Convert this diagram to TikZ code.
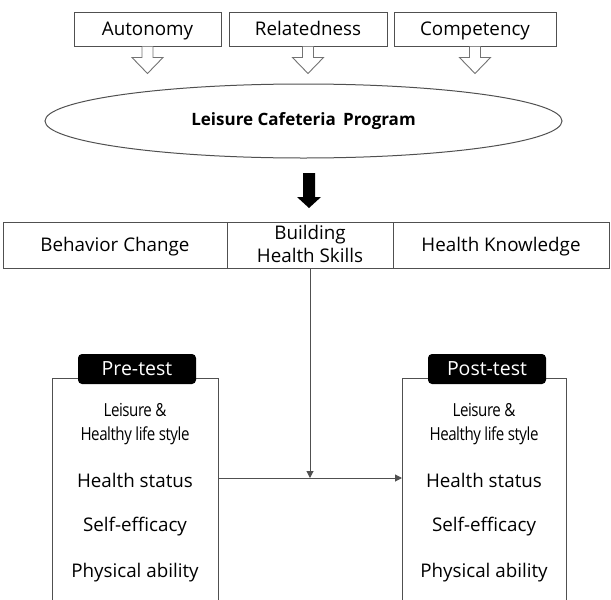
\documentclass[tikz,border=0pt]{standalone}
\usepackage{fontspec}
\setmainfont{Open Sans}
\newfontfamily\narrowfont[FakeStretch=0.84,LetterSpace=-2.5]{Open Sans}
\usetikzlibrary{arrows.meta,calc,shapes.geometric}
\definecolor{edge}{HTML}{505050}
\tikzset{
  box/.style={draw=edge,line width=1pt,rectangle,inner sep=0pt,align=center,text height=13.4pt,text depth=0.8pt,font=\fontsize{18.8}{21}\selectfont},
  hollow/.style={draw=edge!80,line width=0.9pt,fill=white},
  tab/.style={fill=black,rounded corners=4pt,text=white,inner sep=0pt,text height=13.9pt,text depth=0.8pt,font=\fontsize{19.5}{22}\selectfont},
  item/.style={font=\fontsize{18.8}{21}\selectfont,align=center},
  narrowitem/.style={font=\narrowfont\fontsize{18}{24}\selectfont,align=center},
  conn/.style={draw=edge,line width=1pt,-{Triangle[length=7pt,width=7pt]}},
  plain/.style={draw=edge,line width=1pt}
}
\begin{document}
\begin{tikzpicture}[x=1pt,y=-1pt]
\useasboundingbox (0,0) rectangle (611,600);
% top boxes
\node[box,minimum width=147,minimum height=34] (aut) at (147.5,29) {Autonomy};
\node[box,minimum width=158,minimum height=34] (rel) at (308,29) {Relatedness};
\node[box,minimum width=162,minimum height=34] (com) at (475,29) {Competency};
% hollow arrows
\foreach \n in {aut,rel,com}{
  \draw[hollow] (\n.south) ++(-5.5,0) -- ++(0,11) -- ++(-10,0) -- ++(15.5,16) -- ++(15.5,-16) -- ++(-10,0) -- ++(0,-11);
}
% ellipse
\node[draw=edge,line width=1pt,ellipse,minimum width=517,minimum height=74,inner sep=0pt,font=\bfseries\fontsize{17}{20}\selectfont] (lcp) at (303.5,121) {Leisure Cafeteria\, Program};
% black arrow
\coordinate (ba) at (309,173);
\fill[black] (ba) ++(-6,0) -- ++(0,24) -- ++(-6,0) -- ++(12,11) -- ++(12,-11) -- ++(-6,0) -- ++(0,-24) -- cycle;
% row
\node[box,minimum width=224,minimum height=46] (bc) at (115,245) {Behavior Change};
\node[box,minimum width=166,minimum height=46,text height=36.4pt,font=\fontsize{18.8}{23}\selectfont] (bhs) at (310,245) {Building\\Health Skills};
\node[box,minimum width=216,minimum height=46] (hk) at (501,245) {Health Knowledge};
% test boxes
\coordinate (ltl) at (52,378);
\coordinate (ltr) at (218,378);
\coordinate (rtl) at (402,378);
\coordinate (rtr) at (566,378);
\draw[plain] (52,601) -- (ltl) -- (ltr) -- (218,601);
\draw[plain] (402,601) -- (rtl) -- (rtr) -- (566,601);
\node[tab,minimum width=118,minimum height=30] (pre) at (137,369) {Pre-test};
\node[tab,minimum width=118,minimum height=30] (post) at (487,369) {Post-test};
\foreach \c/\p in {135/l,484/r}{
  \node[narrowitem] (\p ls) at (\c,424) {Leisure \&\\Healthy life style};
  \node[item] (\p hs) at (\c,480) {Health status};
  \node[item] (\p se) at (\c,527) {Self-efficacy};
  \node[item] (\p pa) at (\c,573) {Physical ability};
}
% connectors
\coordinate (ls) at (218,478);
\coordinate (rs) at (402,478);
\coordinate (mid) at (310,478);
\draw[plain] (ls) -- (mid);
\draw[conn] (mid) -- (rs);
\draw[conn] (bhs.south) -- (mid);
\end{tikzpicture}
\end{document}
